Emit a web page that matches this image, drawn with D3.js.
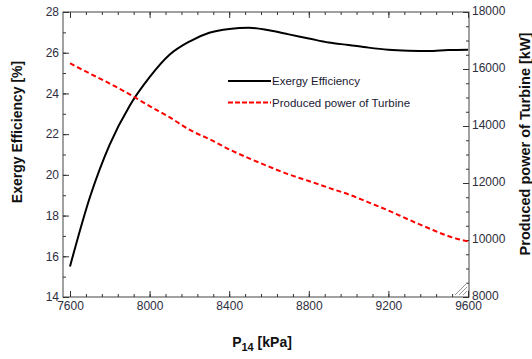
<!DOCTYPE html>
<html>
<head>
<meta charset="utf-8">
<script src="https://cdn.jsdelivr.net/npm/d3@7"></script>
<style>
  body { margin: 0; background: #fff; }
  svg text { font-family: "Liberation Sans", Arial, sans-serif; }
</style>
</head>
<body>
<svg id="chart" width="532" height="359"></svg>
<script>
// pressure P14 [kPa]
let pressure = [7600, 7700, 7800, 7900, 8000, 8100, 8200, 8300, 8400, 8500, 8600,
                8700, 8800, 8900, 9000, 9100, 9200, 9300, 9400, 9500, 9600];
// exergy efficiency [%]
let exergy = [15.5, 18.9, 21.5, 23.4, 24.8, 25.9, 26.55, 26.98, 27.17, 27.23, 27.1,
              26.9, 26.7, 26.5, 26.38, 26.25, 26.15, 26.1, 26.08, 26.13, 26.15];
// produced power of turbine [kW]
let power = [16200, 15840, 15490, 15110, 14700, 14310, 13870, 13540, 13180, 12865, 12575,
             12300, 12070, 11830, 11600, 11320, 11035, 10720, 10420, 10140, 9950];

let xTicks = [7600, 8000, 8400, 8800, 9200, 9600];
let yLeftTicks = [14, 16, 18, 20, 22, 24, 26, 28];
let yRightTicks = [8000, 10000, 12000, 14000, 16000, 18000];

let legendNames = ['Exergy Efficiency', 'Produced power of Turbine'];

let svg = d3.select('#chart');

let frame = { left: 63, right: 469, top: 12, bottom: 297 };

let x = d3.scaleLinear().domain([7600, 9600]).range([70, 468]);
let yL = d3.scaleLinear().domain([14, 28]).range([frame.bottom, frame.top]);
let yR = d3.scaleLinear().domain([8000, 18000]).range([frame.bottom, frame.top]);

let axisColor = '#2e2e3e';

// frame
svg.append('rect')
  .attr('x', frame.left).attr('y', frame.top)
  .attr('width', frame.right - frame.left)
  .attr('height', frame.bottom - frame.top)
  .attr('fill', 'none')
  .attr('stroke', '#444')
  .attr('stroke-width', 1);

function styleAxis(g) {
  g.select('.domain').remove();
  g.selectAll('line').attr('stroke', '#333');
  g.selectAll('text')
    .attr('fill', axisColor)
    .style('font-size', '12px')
    .style('font-family', '"Liberation Sans", Arial, sans-serif');
}

// minor ticks
let xMinor = d3.range(7600, 9601, 80);
let yLMinor = d3.range(14, 28.01, 1);
let yRMinor = d3.range(8000, 18001, 500);

svg.append('g').attr('transform', `translate(0,${frame.bottom})`)
  .call(d3.axisBottom(x).tickValues(xMinor).tickSize(-3).tickFormat(''))
  .call(styleAxis);
svg.append('g').attr('transform', `translate(0,${frame.top})`)
  .call(d3.axisTop(x).tickValues(xMinor).tickSize(-3).tickFormat(''))
  .call(styleAxis);
svg.append('g').attr('transform', `translate(${frame.left},0)`)
  .call(d3.axisLeft(yL).tickValues(yLMinor).tickSize(-3).tickFormat(''))
  .call(styleAxis);
svg.append('g').attr('transform', `translate(${frame.right},0)`)
  .call(d3.axisRight(yR).tickValues(yRMinor).tickSize(-3).tickFormat(''))
  .call(styleAxis);

// major ticks with labels
svg.append('g').attr('transform', `translate(0,${frame.bottom})`)
  .call(d3.axisBottom(x).tickValues(xTicks).tickSizeInner(-6).tickSizeOuter(0).tickPadding(4).tickFormat(d3.format('d')))
  .call(styleAxis);
svg.append('g').attr('transform', `translate(0,${frame.top})`)
  .call(d3.axisTop(x).tickValues(xTicks).tickSizeInner(-6).tickSizeOuter(0).tickFormat(''))
  .call(styleAxis);
svg.append('g').attr('transform', `translate(${frame.left},0)`)
  .call(d3.axisLeft(yL).tickValues(yLeftTicks).tickSizeInner(-6).tickSizeOuter(0).tickPadding(4).tickFormat(d3.format('d')))
  .call(styleAxis);
svg.append('g').attr('transform', `translate(${frame.right},0)`)
  .call(d3.axisRight(yR).tickValues(yRightTicks).tickSizeInner(-6).tickSizeOuter(0).tickPadding(3).tickFormat(d3.format('d')))
  .call(styleAxis)
  .call(g => g.selectAll('text').attr('dy', '0.2em'));

// lines
let exergyLine = d3.line()
  .x((d, i) => x(pressure[i]))
  .y(d => yL(d))
  .curve(d3.curveMonotoneX);

let powerLine = d3.line()
  .x((d, i) => x(pressure[i]))
  .y(d => yR(d))
  .curve(d3.curveMonotoneX);

svg.append('path')
  .datum(exergy)
  .attr('fill', 'none')
  .attr('stroke', 'black')
  .attr('stroke-width', 2)
  .attr('d', exergyLine);

svg.append('path')
  .datum(power)
  .attr('fill', 'none')
  .attr('stroke', '#ff0000')
  .attr('stroke-width', 2)
  .attr('stroke-dasharray', '5,3')
  .attr('d', powerLine);

// legend
let legend = svg.append('g');
let legendStyles = [
  { stroke: 'black', dash: null },
  { stroke: '#ff0000', dash: '5,2' }
];
legendNames.forEach(function(name, i) {
  let ly = 81 + i * 21.5;
  legend.append('line')
    .attr('x1', 228).attr('x2', 271)
    .attr('y1', ly).attr('y2', ly)
    .attr('stroke', legendStyles[i].stroke)
    .attr('stroke-width', 2)
    .attr('stroke-dasharray', legendStyles[i].dash);
  legend.append('text')
    .attr('x', 272).attr('y', ly + 4)
    .attr('fill', '#1a1a33')
    .style('font-size', '11.5px')
    .text(name);
});

// axis titles
svg.append('text')
  .attr('transform', 'translate(22,132) rotate(-90)')
  .attr('text-anchor', 'middle')
  .attr('fill', '#111')
  .style('font-size', '14px')
  .style('font-weight', 'bold')
  .text('Exergy Efficiency [%]');

svg.append('text')
  .attr('transform', 'translate(530,144) rotate(-90)')
  .attr('text-anchor', 'middle')
  .attr('fill', '#111')
  .style('font-size', '14.5px')
  .style('font-weight', 'bold')
  .text('Produced power of Turbine [kW]');

let xTitle = svg.append('text')
  .attr('x', 262).attr('y', 347)
  .attr('text-anchor', 'middle')
  .attr('fill', '#111')
  .style('font-size', '14px')
  .style('font-weight', 'bold');
xTitle.append('tspan').text('P');
xTitle.append('tspan').attr('dy', 4).style('font-size', '11px').text('14');
xTitle.append('tspan').attr('dy', -4).text(' [kPa]');

// resize grip in the corner
let grip = svg.append('g').attr('stroke', '#999').attr('stroke-width', 1);
[4, 8, 12].forEach(function(s) {
  grip.append('line')
    .attr('x1', frame.right - 2 - s).attr('y1', frame.bottom - 2)
    .attr('x2', frame.right - 2).attr('y2', frame.bottom - 2 - s);
});
</script>
</body>
</html>
